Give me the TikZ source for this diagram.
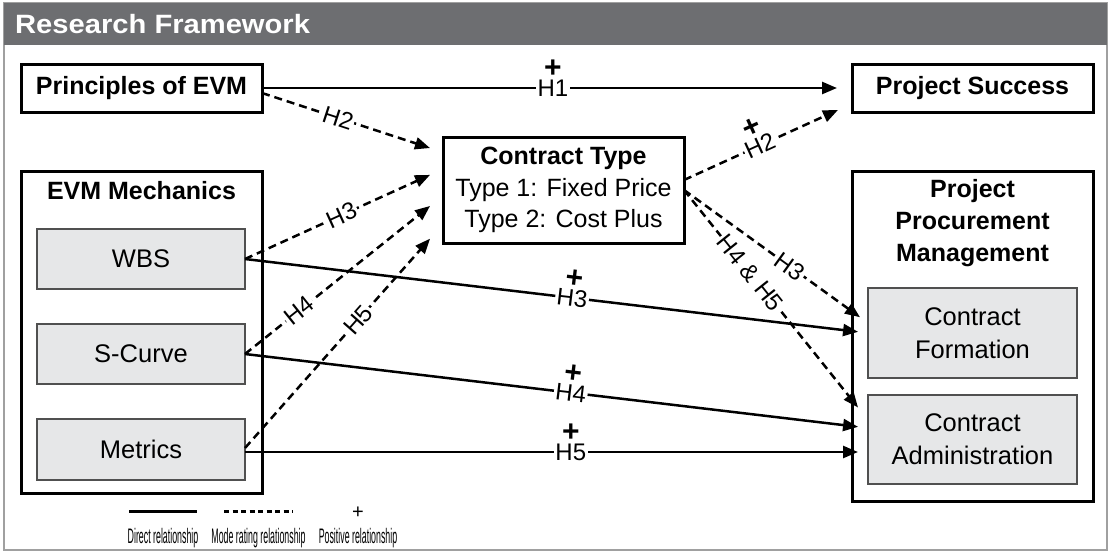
\documentclass[tikz,border=0pt]{standalone}
\usepackage{fontspec}
\setmainfont{Liberation Sans}
\newfontfamily\legfont[FakeStretch=0.42]{Liberation Sans}
\newfontfamily\ttlfont[FakeStretch=1.1]{Liberation Sans}
\usetikzlibrary{arrows.meta}
\definecolor{barcol}{HTML}{6D6E71}
\definecolor{framecol}{HTML}{A0A0A0}
\definecolor{boxfill}{HTML}{E6E7E8}
\definecolor{boxline}{HTML}{505050}
\begin{document}
\begin{tikzpicture}[x=1pt,y=-1pt,
  hbox/.style={draw, line width=3pt, inner sep=0pt, outer sep=0pt, minimum width=241pt, align=center, font=\fontsize{25}{31.5}\selectfont\bfseries},
  obox/.style={draw, line width=3pt, inner sep=0pt, outer sep=0pt, minimum width=241pt},
  gbox/.style={draw=boxline, fill=boxfill, line width=1.5pt, inner sep=0pt, outer sep=0pt, minimum width=208pt, align=center, font=\fontsize{25.5}{33}\selectfont},
  ttl/.style={inner sep=0pt, align=center, font=\fontsize{25}{31.7}\selectfont\bfseries},
  conn/.style={line width=2.5pt, -{Triangle[length=15pt,width=12pt]}},
  dconn/.style={conn, dash pattern=on 8pt off 5pt},
  hlab/.style={fill=white, inner sep=1.5pt, font=\fontsize{24}{24}\selectfont},
  plus/.style={inner sep=0pt, outer sep=0pt, font=\fontsize{30}{30}\selectfont\bfseries},
  legtext/.style={inner sep=0pt, anchor=base, font=\legfont\fontsize{21}{21}\selectfont},
]
\useasboundingbox (0,0) rectangle (1109,552);
\fill[white] (0,0) rectangle (1109,552);
% frame and title bar
\draw[framecol, line width=2pt] (4,3) rectangle (1107,550);
\fill[barcol] (4,3) rectangle (1107,45);
\node[anchor=west, inner sep=0pt, text=white, font=\ttlfont\fontsize{26.5}{26.5}\selectfont\bfseries] (title) at (15,24) {Research Framework};

% main boxes
\node[hbox, minimum height=48pt] (prin) at (141.5,88) {Principles of EVM};
\node[hbox, minimum height=48pt] (succ) at (972.5,88) {Project Success};
\node[hbox, minimum height=106pt, font=\fontsize{25}{31.5}\selectfont] (ctype) at (563.5,190) {{\bfseries Contract Type}\\Type 1: Fixed Price\\Type 2: Cost Plus};

% EVM mechanics group
\node[obox, minimum height=322pt] (evm) at (141.5,332) {};
\node[ttl] (evmt) at (141.5,191) {EVM Mechanics};
\node[gbox, minimum height=60pt] (wbs) at (141,259) {WBS};
\node[gbox, minimum height=60pt] (scurve) at (141,354) {S-Curve};
\node[gbox, minimum height=61pt] (metrics) at (141,449.5) {Metrics};

% Project procurement management group
\node[obox, minimum height=330pt] (ppm) at (972.5,336) {};
\node[ttl] (ppmt) at (972.5,223) {Project\\Procurement\\Management};
\node[gbox, minimum width=209pt, minimum height=90pt] (cform) at (972.5,333) {Contract\\Formation};
\node[gbox, minimum width=209pt, minimum height=89pt] (cadmin) at (972.5,439.5) {Contract\\Administration};

% direct relationships
\draw[conn, shorten >=15pt] (prin.east) -- (succ.west)
  node[hlab, pos=.493] {H1} node[plus, pos=.493, above=11pt] {+};
\draw[conn, shorten >=10pt] (wbs.east) -- (cform.west)
  node[hlab, sloped, pos=.525] {H3} node[plus, sloped, pos=.525, above=10.5pt] {+};
\draw[conn, shorten >=10pt] (scurve.east) -- ([yshift=11.5pt]cadmin.west)
  node[hlab, sloped, pos=.523] {H4} node[plus, sloped, pos=.523, above=10.5pt] {+};
\draw[conn, shorten >=10pt] ([yshift=-2.5pt]metrics.east) -- ([yshift=-12.5pt]cadmin.west)
  node[hlab, pos=.523] {H5} node[plus, pos=.523, above=11pt] {+};

% moderating relationships (left)
\draw[dconn, shorten >=13.7pt] ([yshift=-5pt]prin.east) -- ([yshift=37.7pt]ctype.west)
  node[hlab, sloped, pos=.42] {H2};
\draw[dconn, shorten >=14.2pt] (wbs.east) -- ([yshift=21pt]ctype.west)
  node[hlab, sloped, pos=.487] {H3};
\draw[dconn, shorten >=16.6pt] (scurve.east) -- ([yshift=-5.6pt]ctype.west)
  node[hlab, sloped, pos=.274] {H4};
\draw[dconn, shorten >=19.6pt] ([yshift=1.5pt]metrics.east) -- ([yshift=-34pt]ctype.west)
  node[hlab, sloped, pos=.571] {H5};

% moderating relationships (right)
\draw[dconn, shorten >=15.4pt] ([yshift=10pt]ctype.east) -- ([yshift=-15.6pt]succ.west)
  node[hlab, sloped, pos=.452] {H2} node[plus, sloped, pos=.452, above=10.5pt] {+};
\draw[dconn, shorten >=9.9pt] (ctype.east) -- ([yshift=10pt]cform.west)
  node[hlab, sloped, pos=.576] {H3};
\draw[dconn, shorten >=16pt] (ctype.east) -- ([yshift=19.5pt]cadmin.west)
  node[hlab, sloped, pos=.36] {H4 \& H5};

% legend
\coordinate (ls1) at (129,511);
\coordinate (ls2) at (197,511);
\coordinate (ld1) at (224,511);
\coordinate (ld2) at (293,511);
\draw[line width=3pt] (ls1) -- (ls2);
\draw[line width=3pt, dash pattern=on 5pt off 3.5pt] (ld1) -- (ld2);
\node[inner sep=0pt, font=\fontsize{20}{20}\selectfont] (lplus) at (358,513) {+};
\node[legtext] (lt1) at (163,543) {Direct relationship};
\node[legtext] (lt2) at (258.5,543) {Mode rating relationship};
\node[legtext] (lt3) at (358,543) {Positive relationship};
\end{tikzpicture}
\end{document}
